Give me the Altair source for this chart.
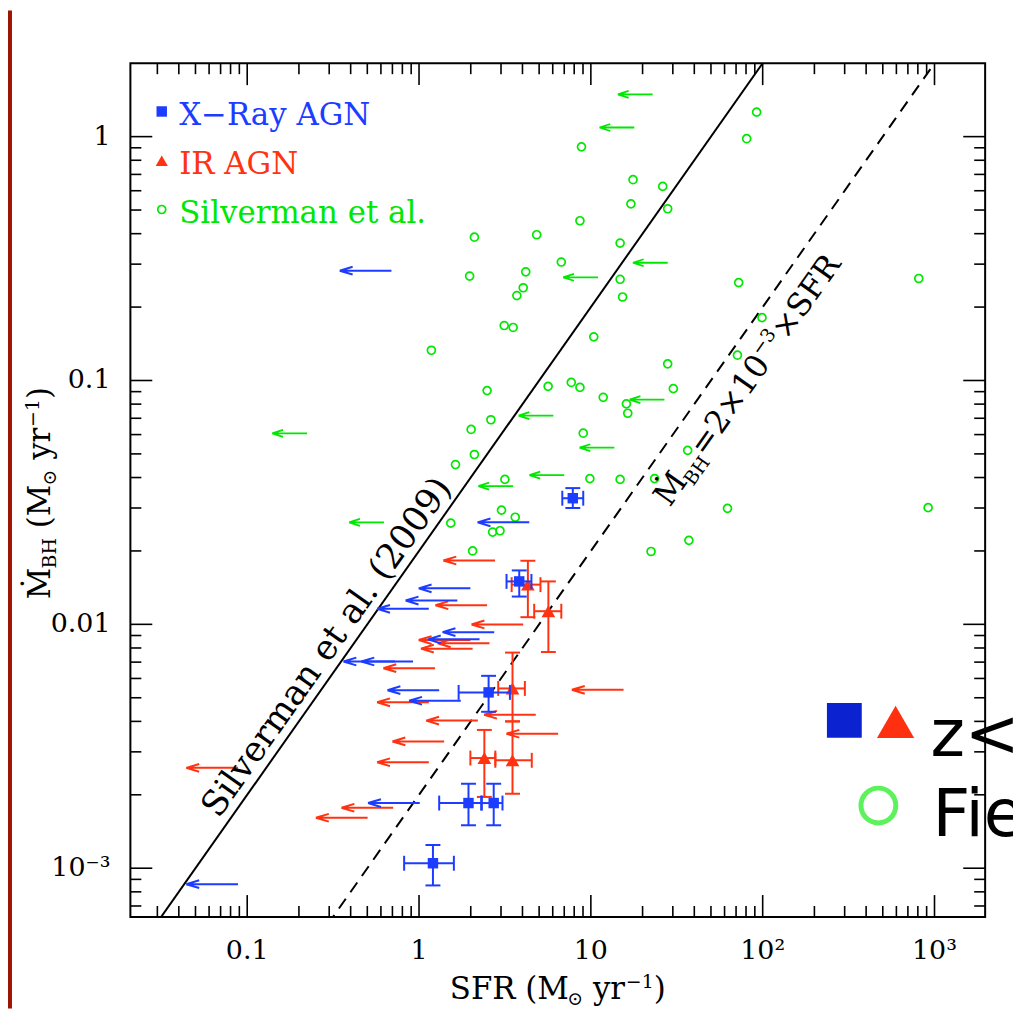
import altair as alt
import pandas as pd

# ---------------- data ----------------
x_domain = [0.0209, 1971]
y_domain = [0.000631, 2.0]

# X-ray AGN detections (blue squares)
xr_sfr = [7.85, 3.83, 2.54, 1.94, 2.72, 1.205]
xr_sfr_lo = [6.82, 3.23, 1.70, 1.31, 2.32, 0.819]
xr_sfr_hi = [9.03, 4.51, 3.38, 2.30, 3.06, 1.595]
xr_mbh = [0.0329, 0.0150, 0.00526, 0.00185, 0.00185, 0.001048]
xr_mbh_lo = [0.0300, 0.0130, 0.00438, 0.00150, 0.00150, 0.000850]
xr_mbh_hi = [0.0362, 0.01664, 0.00615, 0.00222, 0.00222, 0.001245]

# IR AGN detections (red triangles)
ir_sfr = [4.30, 5.66, 3.50, 2.40, 3.50]
ir_sfr_lo = [3.46, 4.68, 2.89, 1.99, 2.78]
ir_sfr_hi = [5.09, 6.73, 4.13, 2.78, 4.53]
ir_mbh = [0.01455, 0.01132, 0.00546, 0.00283, 0.00277]
ir_mbh_lo = [0.01070, 0.0077, 0.0040, 0.00196, 0.00202]
ir_mbh_hi = [0.01823, 0.0150, 0.00766, 0.00369, 0.0040]

# SFR upper limits (arrows)
xr_lim_sfr = [0.691, 4.38, 1.99, 1.67, 1.14, 2.74, 2.25, 0.726, 0.923, 1.31, 1.75, 1.01, 0.0884]
xr_lim_mbh = [0.282, 0.0262, 0.01405, 0.01252, 0.01158, 0.00929, 0.00868, 0.00704, 0.00704,
              0.00537, 0.00486, 0.00185, 0.000860]
ir_lim_sfr = [2.77, 2.49, 4.04, 1.99, 2.57, 2.05, 1.24, 1.14, 4.78, 2.20, 6.45, 1.40, 1.14,
              0.0884, 0.707, 0.502, 15.5]
ir_lim_mbh = [0.01828, 0.01198, 0.00999, 0.00862, 0.00836, 0.00795, 0.00661, 0.00479, 0.00426,
              0.00403, 0.00356, 0.00331, 0.00272, 0.00258, 0.00177, 0.00161, 0.00539]

# Silverman et al. sample (green)
sil_sfr = [2.10, 4.84, 1.97, 4.18, 4.04, 3.71, 3.13, 3.53, 1.18, 92.2, 80.7, 8.82, 17.6, 26.2,
           17.1, 28.0, 8.64, 14.8, 6.73, 14.8, 15.3, 810, 72.5, 99.1, 10.4, 71.3, 28.0, 2.49,
           5.64, 2.62, 2.01, 2.10, 1.63, 3.16, 3.02, 3.63, 1.53, 2.68, 2.96, 2.05, 7.69, 8.64,
           11.8, 30.2, 16.1, 16.4, 9.03, 36.6, 9.87, 14.8, 23.5, 62.4, 918, 37.2, 22.4]
sil_mbh = [0.387, 0.396, 0.268, 0.279, 0.240, 0.223, 0.168, 0.165, 0.133, 1.26, 0.981, 0.908,
           0.666, 0.625, 0.530, 0.506, 0.452, 0.366, 0.306, 0.260, 0.220, 0.262, 0.252, 0.181,
           0.151, 0.127, 0.117, 0.0909, 0.0946, 0.0690, 0.0630, 0.0497, 0.0452, 0.0393, 0.0294,
           0.0275, 0.0260, 0.0239, 0.0242, 0.0200, 0.0982, 0.0937, 0.0853, 0.0926, 0.0802,
           0.0734, 0.0608, 0.0517, 0.0396, 0.0393, 0.0396, 0.0299, 0.0301, 0.0221, 0.0199]
sil_lim_sfr = [22.9, 17.9, 28.0, 11.0, 0.223, 6.05, 7.00, 3.53, 0.625, 26.8, 13.7]
sil_lim_mbh = [1.49, 1.09, 0.304, 0.265, 0.0607, 0.0718, 0.0409, 0.0369, 0.0262, 0.0835, 0.0530]

# reference relations
silverman_line_sfr = [0.01, 200.0]
silverman_line_mbh = [0.0002, 4.0]
ratio_line_sfr = [0.1, 2000.0]
ratio_line_mbh = [0.0002, 4.0]

# axis ticks and tick labels
x_major = [0.1, 1, 10, 100, 1000]
x_tick_labels = ["0.1", "1", "10", "10²", "10³"]
y_major = [0.001, 0.01, 0.1, 1]
y_tick_labels = ["10⁻³", "0.01", "0.1", "1"]
x_minor = [m * 10.0 ** e for e in range(-2, 3) for m in range(2, 10)]
x_minor = [v for v in x_minor if 0.0209 < v < 1971]
y_minor = [m * 10.0 ** e for e in range(-4, 1) for m in range(2, 10)]
y_minor = [v for v in y_minor if 0.000631 < v < 1.99]

# ---------------- styling ----------------
W, H = 859, 858
BLUE = "#1c3cff"
RED = "#ff3311"
GREEN = "#00e800"
SERIF = "DejaVu Serif"

X_SCALE = alt.Scale(type="log", domain=x_domain, nice=False)
Y_SCALE = alt.Scale(type="log", domain=y_domain, nice=False)


def xe(f):
    return alt.X(f"{f}:Q", scale=X_SCALE, axis=None)


def ye(f):
    return alt.Y(f"{f}:Q", scale=Y_SCALE, axis=None)


ONE = pd.DataFrame({"a": [0]})

xr = pd.DataFrame(dict(sfr=xr_sfr, sfr_lo=xr_sfr_lo, sfr_hi=xr_sfr_hi,
                       mbh=xr_mbh, mbh_lo=xr_mbh_lo, mbh_hi=xr_mbh_hi))
ir = pd.DataFrame(dict(sfr=ir_sfr, sfr_lo=ir_sfr_lo, sfr_hi=ir_sfr_hi,
                       mbh=ir_mbh, mbh_lo=ir_mbh_lo, mbh_hi=ir_mbh_hi))
xr_lim = pd.DataFrame(dict(sfr=xr_lim_sfr, mbh=xr_lim_mbh))
ir_lim = pd.DataFrame(dict(sfr=ir_lim_sfr, mbh=ir_lim_mbh))
sil = pd.DataFrame(dict(sfr=sil_sfr, mbh=sil_mbh))
sil_lim = pd.DataFrame(dict(sfr=sil_lim_sfr, mbh=sil_lim_mbh))
sline = pd.DataFrame(dict(sfr=silverman_line_sfr, mbh=silverman_line_mbh))
rline = pd.DataFrame(dict(sfr=ratio_line_sfr, mbh=ratio_line_mbh))

layers = []

# left slide border
layers.append(alt.Chart(ONE).mark_rect(color="#9b1502").encode(
    x=alt.value(-123), x2=alt.value(-119), y=alt.value(-53), y2=alt.value(H + 92)))

# relations
layers.append(alt.Chart(sline).mark_line(color="black", strokeWidth=2, clip=True).encode(
    x=xe("sfr"), y=ye("mbh")))
layers.append(alt.Chart(rline).mark_line(color="black", strokeWidth=2, strokeDash=[12, 8],
                                         clip=True).encode(x=xe("sfr"), y=ye("mbh")))

# Silverman sample
layers.append(alt.Chart(sil).mark_point(shape="circle", size=64, filled=False, color=GREEN,
                                        strokeWidth=1.7, opacity=1).encode(x=xe("sfr"), y=ye("mbh")))
GREEN_ARROW = "M0,0L-1,0M-1,0L-0.69,-0.1M-1,0L-0.69,0.1"
layers.append(alt.Chart(sil_lim).mark_point(shape=GREEN_ARROW, size=4900, filled=False, color=GREEN,
                                            strokeWidth=1.8, opacity=1).encode(x=xe("sfr"), y=ye("mbh")))

# upper limits
LONG_ARROW = "M0,0L-1,0M-1,0L-0.75,-0.075M-1,0L-0.75,0.075"
layers.append(alt.Chart(ir_lim).mark_point(shape=LONG_ARROW, size=10816, filled=False, color=RED,
                                           strokeWidth=2, opacity=1).encode(x=xe("sfr"), y=ye("mbh")))
layers.append(alt.Chart(xr_lim).mark_point(shape=LONG_ARROW, size=10816, filled=False, color=BLUE,
                                           strokeWidth=2, opacity=1).encode(x=xe("sfr"), y=ye("mbh")))


def detections(df, color, shape, size):
    out = []
    out.append(alt.Chart(df).mark_rule(color=color, strokeWidth=2).encode(
        x=xe("sfr_lo"), x2="sfr_hi", y=ye("mbh")))
    out.append(alt.Chart(df).mark_rule(color=color, strokeWidth=2).encode(
        x=xe("sfr"), y=ye("mbh_lo"), y2="mbh_hi"))
    for f in ["sfr_lo", "sfr_hi"]:
        out.append(alt.Chart(df).mark_tick(orient="vertical", size=15, thickness=2, color=color,
                                           opacity=1).encode(x=xe(f), y=ye("mbh")))
    for f in ["mbh_lo", "mbh_hi"]:
        out.append(alt.Chart(df).mark_tick(orient="horizontal", size=15, thickness=2, color=color,
                                           opacity=1).encode(x=xe("sfr"), y=ye(f)))
    out.append(alt.Chart(df).mark_point(shape=shape, size=size, filled=True, color=color,
                                        opacity=1).encode(x=xe("sfr"), y=ye("mbh")))
    return out


layers += detections(ir, RED, "triangle-up", 190)
layers += detections(xr, BLUE, "square", 110)

# line labels
ANG = 305.18
layers.append(alt.Chart(pd.DataFrame(dict(sfr=[0.361], mbh=[0.00723]))).mark_text(
    text="Silverman et al. (2009)", angle=ANG, align="center", baseline="alphabetic", dy=-9,
    font=SERIF, fontSize=35, color="black").encode(x=xe("sfr"), y=ye("mbh")))
lab = pd.DataFrame(dict(sfr=[58.9], mbh=[0.1178]))
for txt, dx, dy, fs in [("Ṁ", -150, 40, 32), ("BH", -119, 47, 19), ("=2×10", -88, 40, 32),
                        ("−3", 27, 27, 19), ("×SFR", 55, 40, 32)]:
    layers.append(alt.Chart(lab).mark_text(text=txt, angle=ANG, align="left", baseline="alphabetic",
                                           dx=dx, dy=dy, font=SERIF, fontSize=fs, color="black").encode(
        x=xe("sfr"), y=ye("mbh")))

# frame ticks (inward) and tick labels
xmaj = pd.DataFrame(dict(v=x_major, label=x_tick_labels))
xmin = pd.DataFrame(dict(v=x_minor))
ymaj = pd.DataFrame(dict(v=y_major, label=y_tick_labels))
ymin = pd.DataFrame(dict(v=y_minor))
TW = 1.6
layers.append(alt.Chart(xmaj).mark_rule(color="black", strokeWidth=TW).encode(
    x=xe("v"), y=alt.value(0), y2=alt.value(22)))
layers.append(alt.Chart(xmaj).mark_rule(color="black", strokeWidth=TW).encode(
    x=xe("v"), y=alt.value(H), y2=alt.value(H - 22)))
layers.append(alt.Chart(xmin).mark_rule(color="black", strokeWidth=TW).encode(
    x=xe("v"), y=alt.value(0), y2=alt.value(11)))
layers.append(alt.Chart(xmin).mark_rule(color="black", strokeWidth=TW).encode(
    x=xe("v"), y=alt.value(H), y2=alt.value(H - 11)))
layers.append(alt.Chart(ymaj).mark_rule(color="black", strokeWidth=TW).encode(
    y=ye("v"), x=alt.value(0), x2=alt.value(22)))
layers.append(alt.Chart(ymaj).mark_rule(color="black", strokeWidth=TW).encode(
    y=ye("v"), x=alt.value(W), x2=alt.value(W - 22)))
layers.append(alt.Chart(ymin).mark_rule(color="black", strokeWidth=TW).encode(
    y=ye("v"), x=alt.value(0), x2=alt.value(11)))
layers.append(alt.Chart(ymin).mark_rule(color="black", strokeWidth=TW).encode(
    y=ye("v"), x=alt.value(W), x2=alt.value(W - 11)))
layers.append(alt.Chart(xmaj).mark_text(align="center", baseline="top", font=SERIF, fontSize=27,
                                        color="black").encode(
    x=xe("v"), y=alt.value(H + 21), text="label:N"))
layers.append(alt.Chart(ymaj).mark_text(align="right", baseline="middle", font=SERIF, fontSize=27,
                                        color="black").encode(
    y=ye("v"), x=alt.value(-20), text="label:N"))


def tx(txt, x, y, dx=0, dy=0, fs=31, angle=0, color="black", font=SERIF, align="left"):
    kw = dict(text=txt, align=align, baseline="alphabetic", dx=dx, dy=dy, font=font, fontSize=fs,
              color=color)
    if angle:
        kw["angle"] = angle
    return alt.Chart(ONE).mark_text(**kw).encode(x=alt.value(x), y=alt.value(y))


# axis titles
for txt, dx, dy, fs in [("SFR (M", -108.5, 0, 31), ("⊙", 9.5, 6, 19), ("yr", 35.3, 0, 31),
                        ("−1", 68.4, -11, 19), (")", 96.4, 0, 31)]:
    layers.append(tx(txt, W / 2, 940, dx, dy, fs))
for txt, dx, dy, fs in [("Ṁ", -106.6, 0, 31), ("BH", -75.7, 6, 19), ("(M", -35.3, 0, 31),
                        ("⊙", 7.6, 6, 19), ("yr", 33.4, 0, 31), ("−1", 66.5, -11, 19),
                        (")", 94.5, 0, 31)]:
    layers.append(tx(txt, -81, 432, dx, dy, fs, angle=270))

# in-plot legend
layers.append(alt.Chart(ONE).mark_point(shape="square", size=110, filled=True, color=BLUE, opacity=1)
              .encode(x=alt.value(31.5), y=alt.value(48.5)))
layers.append(alt.Chart(ONE).mark_point(shape="triangle-up", size=150, filled=True, color=RED, opacity=1)
              .encode(x=alt.value(31.5), y=alt.value(98)))
layers.append(alt.Chart(ONE).mark_point(shape="circle", size=64, filled=False, color=GREEN,
                                        strokeWidth=1.7, opacity=1)
              .encode(x=alt.value(31.5), y=alt.value(147)))
layers.append(tx("X−Ray AGN", 49, 62, color=BLUE))
layers.append(tx("IR AGN", 49, 111, color=RED))
layers.append(tx("Silverman et al.", 49, 161, color=GREEN))

# slide overlay (bottom right)
layers.append(alt.Chart(ONE).mark_point(shape="square", size=1225, filled=True, color="#0a22d0",
                                        opacity=1).encode(x=alt.value(717.5), y=alt.value(660.5)))
layers.append(alt.Chart(ONE).mark_point(shape="triangle-up", size=1400, filled=True, color="#ff3010",
                                        opacity=1).encode(x=alt.value(769), y=alt.value(662)))
layers.append(alt.Chart(ONE).mark_point(shape="circle", size=1225, filled=False, color="#5cf25c",
                                        strokeWidth=5, opacity=1).encode(x=alt.value(751.7), y=alt.value(746)))
layers.append(tx("z<0.5", 804, 696, fs=66, font="DejaVu Sans"))
layers.append(tx("Field", 806, 777, fs=66, font="DejaVu Sans"))

chart = alt.layer(*layers).properties(
    width=W, height=H,
    autosize=alt.AutoSizeParams(type="none"),
    padding={"left": 123, "top": 53, "right": 28, "bottom": 92},
    background="white",
).configure_view(stroke="black", strokeWidth=2)

chart.save("out.html", embed_options={"renderer": "svg", "actions": False})
